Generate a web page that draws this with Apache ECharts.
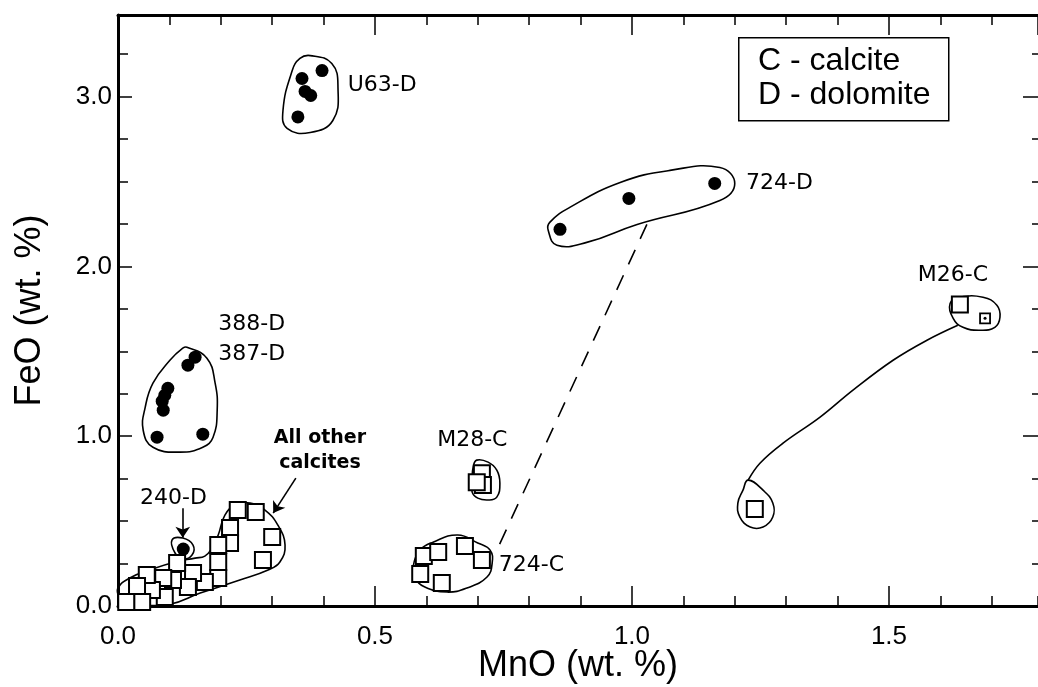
<!DOCTYPE html>
<html>
<head>
<meta charset="utf-8">
<script src="https://cdn.jsdelivr.net/npm/echarts@6/dist/echarts.min.js"></script>
<style>html,body{margin:0;padding:0;background:#fff}#c{width:1038px;height:687px}</style>
</head>
<body>
<div id="c"></div>
<script>
// ---- axis ranges ----
const xMin = 0, xMax = 1.79, xMajor = 0.5, xMinor = 0.1;
const yMin = 0, yMax = 3.48, yMajor = 1, yMinor = 0.25;
const xTitle = 'MnO (wt. %)';
const yTitle = 'FeO (wt. %)';

// ---- dolomite (filled circles) ----
const u63D = [[0.397,3.153],[0.358,3.106],[0.364,3.03],[0.375,3.006],[0.350,2.88]];
const d724D = [[0.860,2.218],[0.994,2.40],[1.161,2.488]];
const d387_388D = [[0.150,1.465],[0.136,1.418],[0.097,1.282],[0.091,1.241],[0.086,1.206],[0.088,1.153],[0.076,0.994],[0.165,1.012]];
const d240D = [[0.127,0.335]];

// ---- calcite (open squares) ----
const otherCalcites = [[0.300,0.406],[0.282,0.271],[0.268,0.553],[0.233,0.565],[0.218,0.459],[0.218,0.371],
  [0.195,0.359],[0.195,0.259],[0.195,0.165],[0.169,0.141],[0.146,0.194],[0.136,0.112],[0.115,0.253],
  [0.107,0.153],[0.088,0.165],[0.091,0.053],[0.066,0.094],[0.056,0.182],[0.037,0.118],[0.047,0.024],[0.016,0.024]];
const m28C = [[0.708,0.782],[0.710,0.712],[0.698,0.729]];
const c724C = [[0.588,0.188],[0.595,0.294],[0.623,0.318],[0.675,0.353],[0.708,0.271],[0.630,0.135]];
const m26C = [[1.638,1.776],[1.239,0.571]];
const m26CSmall = [[1.687,1.694]];

// ---- hand-drawn envelopes (closed) ----
const envU63 = [[0.374,3.241],[0.416,3.194],[0.428,3.053],[0.418,2.859],[0.374,2.788],[0.329,2.812],[0.321,2.918],[0.339,3.153],[0.354,3.224]];
const env724D = [[0.837,2.212],[0.854,2.124],[0.912,2.141],[1.010,2.247],[1.171,2.388],[1.200,2.488],[1.171,2.582],[1.074,2.565],[0.977,2.494],[0.879,2.347],[0.840,2.259]];
const env387 = [[0.134,1.524],[0.173,1.459],[0.189,1.312],[0.193,1.153],[0.185,0.994],[0.165,0.935],[0.121,0.906],[0.068,0.935],[0.049,1.035],[0.053,1.171],[0.068,1.312],[0.101,1.447],[0.126,1.518]];
const envOther = [[0.000,0.106],[0.023,0.165],[0.062,0.212],[0.111,0.259],[0.150,0.282],[0.169,0.294],[0.183,0.341],[0.195,0.418],[0.208,0.535],[0.228,0.594],[0.257,0.606],[0.286,0.565],[0.311,0.476],[0.325,0.359],[0.315,0.259],[0.292,0.212],[0.237,0.153],[0.160,0.076],[0.101,0.010],[0.043,0.004],[0.008,0.004],[0.002,0.047]];
const env240 = [[0.105,0.388],[0.126,0.400],[0.146,0.359],[0.144,0.300],[0.126,0.276],[0.111,0.312]];
const envM28 = [[0.698,0.859],[0.720,0.847],[0.737,0.800],[0.743,0.724],[0.737,0.641],[0.720,0.624],[0.700,0.635],[0.689,0.671],[0.689,0.741],[0.691,0.818]];
const env724C = [[0.574,0.229],[0.588,0.329],[0.613,0.376],[0.661,0.418],[0.700,0.371],[0.724,0.329],[0.728,0.253],[0.718,0.171],[0.679,0.106],[0.640,0.082],[0.597,0.112],[0.578,0.165]];
const envM26Up = [[1.619,1.782],[1.638,1.818],[1.683,1.818],[1.710,1.771],[1.716,1.700],[1.706,1.641],[1.677,1.624],[1.644,1.641],[1.625,1.694]];
const envM26Low = [[1.226,0.741],[1.255,0.682],[1.274,0.606],[1.274,0.524],[1.255,0.465],[1.230,0.465],[1.210,0.524],[1.206,0.606],[1.216,0.682]];

// ---- open curves ----
const m26Link = [[1.226,0.741],[1.249,0.841],[1.294,0.959],[1.366,1.112],[1.430,1.271],[1.508,1.447],[1.574,1.565],[1.634,1.653]];
const dashedLink = [[1.029,2.247],[0.739,0.341]];

// ---- arrows ----
const arrow240 = [[0.126,0.576],[0.126,0.402]];
const arrowOther = [[0.346,0.753],[0.302,0.547]];

// ---- labels (left-middle anchor) ----
const labelNames = ['U63-D','724-D','M26-C','388-D','387-D','M28-C','724-C','240-D'];
const labelPos = [[0.447,3.065],[1.222,2.488],[1.556,1.947],[0.195,1.659],[0.195,1.482],[0.621,0.976],[0.741,0.241],[0.043,0.635]];
const otherLabelLines = ['All other','calcites'];
const otherLabelPos = [[0.393,0.990],[0.393,0.843]];

const legendLines = ['C - calcite','D - dolomite'];

const closedShapes = [envU63, env724D, env387, envOther, env240, envM28, env724C, envM26Up, envM26Low];
const openShapes = [m26Link];

const chart = echarts.init(document.getElementById('c'), null, {renderer:'canvas'});
const FONT = 'Liberation Sans, Arial, Helvetica, sans-serif';
const LFONT = '"DejaVu Sans", sans-serif';

function axis(pos, min, max, interval, tickLen, showLine, extra) {
  return Object.assign({
    type:'value', position:pos, min:min, max:max, interval:interval,
    axisLine:{show:showLine, onZero:false, lineStyle:{color:'#000', width:3}},
    axisTick:{show:true, inside:true, length:tickLen, lineStyle:{color:'#000', width:1.5}},
    axisLabel:{show:false},
    splitLine:{show:false}
  }, extra || {});
}

const option = {
  animation:false,
  backgroundColor:'#fff',
  grid:{left:118, right:0, top:15, bottom:81, containLabel:false, outerBoundsMode:'none'},
  xAxis:[
    axis('bottom', xMin, xMax, xMajor, 20, true, {
      axisLabel:{show:true, showMaxLabel:false, color:'#000', fontSize:26, fontFamily:FONT, margin:18,
        formatter:v=>v.toFixed(1)},
      name:xTitle, nameLocation:'middle', nameGap:42, nameMoveOverlap:false,
      nameTextStyle:{color:'#000', fontSize:36, fontFamily:FONT}
    }),
    axis('bottom', xMin, xMax, xMinor, 10, false),
    axis('top', xMin, xMax, xMajor, 20, true),
    axis('top', xMin, xMax, xMinor, 10, false)
  ],
  yAxis:[
    axis('left', yMin, yMax, yMajor, 14, true, {
      axisLabel:{show:true, showMaxLabel:false, color:'#000', fontSize:26, fontFamily:FONT, margin:6,
        formatter:v=>v.toFixed(1)},
      name:yTitle, nameLocation:'middle', nameGap:70, nameMoveOverlap:false,
      nameTextStyle:{color:'#000', fontSize:36, fontFamily:FONT}
    }),
    axis('left', yMin, yMax, yMinor, 10, false),
    axis('right', yMin, yMax, yMajor, 15, false),
    axis('right', yMin, yMax, yMinor, 6, false)
  ],
  graphic:[
    {type:'rect', left:738, top:37, shape:{width:210, height:83}, style:{fill:'#fff', stroke:'#000', lineWidth:1.5}, z:100},
    {type:'text', left:758, top:45, style:{text:legendLines[0], font:'32px '+FONT, fill:'#000'}, z:101},
    {type:'text', left:758, top:79, style:{text:legendLines[1], font:'32px '+FONT, fill:'#000'}, z:101}
  ],
  series:[
    {
      type:'custom', name:'envelopes', coordinateSystem:'cartesian2d', z:2,
      data:closedShapes.map((_, i) => [i]),
      renderItem:(params, api) => {
        const pts = closedShapes[params.dataIndex].map(p => api.coord(p));
        return {type:'polygon', shape:{points:pts, smooth:0.45}, style:{fill:null, stroke:'#000', lineWidth:1.6}};
      }
    },
    {
      type:'custom', name:'links', coordinateSystem:'cartesian2d', z:2,
      data:openShapes.map((_, i) => [i]),
      renderItem:(params, api) => {
        const pts = openShapes[params.dataIndex].map(p => api.coord(p));
        return {type:'polyline', shape:{points:pts, smooth:0.4}, style:{fill:null, stroke:'#000', lineWidth:1.6}};
      }
    },
    {
      type:'line', name:'dashed', data:dashedLink, symbol:'none', z:2,
      lineStyle:{color:'#000', width:1.6, type:[16,12]}
    },
    {
      type:'lines', coordinateSystem:'cartesian2d', z:3,
      symbol:['none','arrow'], symbolSize:11,
      lineStyle:{color:'#000', width:1.6, opacity:1},
      data:[{coords:arrow240}, {coords:arrowOther}]
    },
    ...[u63D, d724D, d387_388D, d240D].map(d => ({
      type:'scatter', data:d, symbol:'circle', symbolSize:13, z:5,
      itemStyle:{color:'#000', opacity:1}
    })),
    ...[otherCalcites, m28C, c724C, m26C].map(d => ({
      type:'scatter', data:d, symbol:'rect', symbolSize:16, z:5,
      itemStyle:{color:'#fff', borderColor:'#000', borderWidth:2, opacity:1}
    })),
    {
      type:'scatter', data:m26CSmall, symbol:'rect', symbolSize:10, z:5,
      itemStyle:{color:'#fff', borderColor:'#000', borderWidth:1.8, opacity:1}
    },
    {
      type:'scatter', data:m26CSmall, symbol:'circle', symbolSize:3, z:6,
      itemStyle:{color:'#000', opacity:1}
    },
    {
      type:'custom', name:'labels', coordinateSystem:'cartesian2d', z:7,
      data:labelPos.map((p, i) => [i]),
      renderItem:(params, api) => {
        const pt = api.coord(labelPos[params.dataIndex]);
        return {type:'text', x:pt[0], y:pt[1],
          style:{text:labelNames[params.dataIndex], fill:'#000', font:'22px '+LFONT,
            textAlign:'left', textVerticalAlign:'middle'}};
      }
    },
    {
      type:'custom', name:'otherLabel', coordinateSystem:'cartesian2d', z:7,
      data:otherLabelPos.map((p, i) => [i]),
      renderItem:(params, api) => {
        const pt = api.coord(otherLabelPos[params.dataIndex]);
        return {type:'text', x:pt[0], y:pt[1],
          style:{text:otherLabelLines[params.dataIndex], fill:'#000', font:'bold 19px '+LFONT,
            textAlign:'center', textVerticalAlign:'middle'}};
      }
    }
  ]
};
chart.setOption(option);
</script>
</body>
</html>
